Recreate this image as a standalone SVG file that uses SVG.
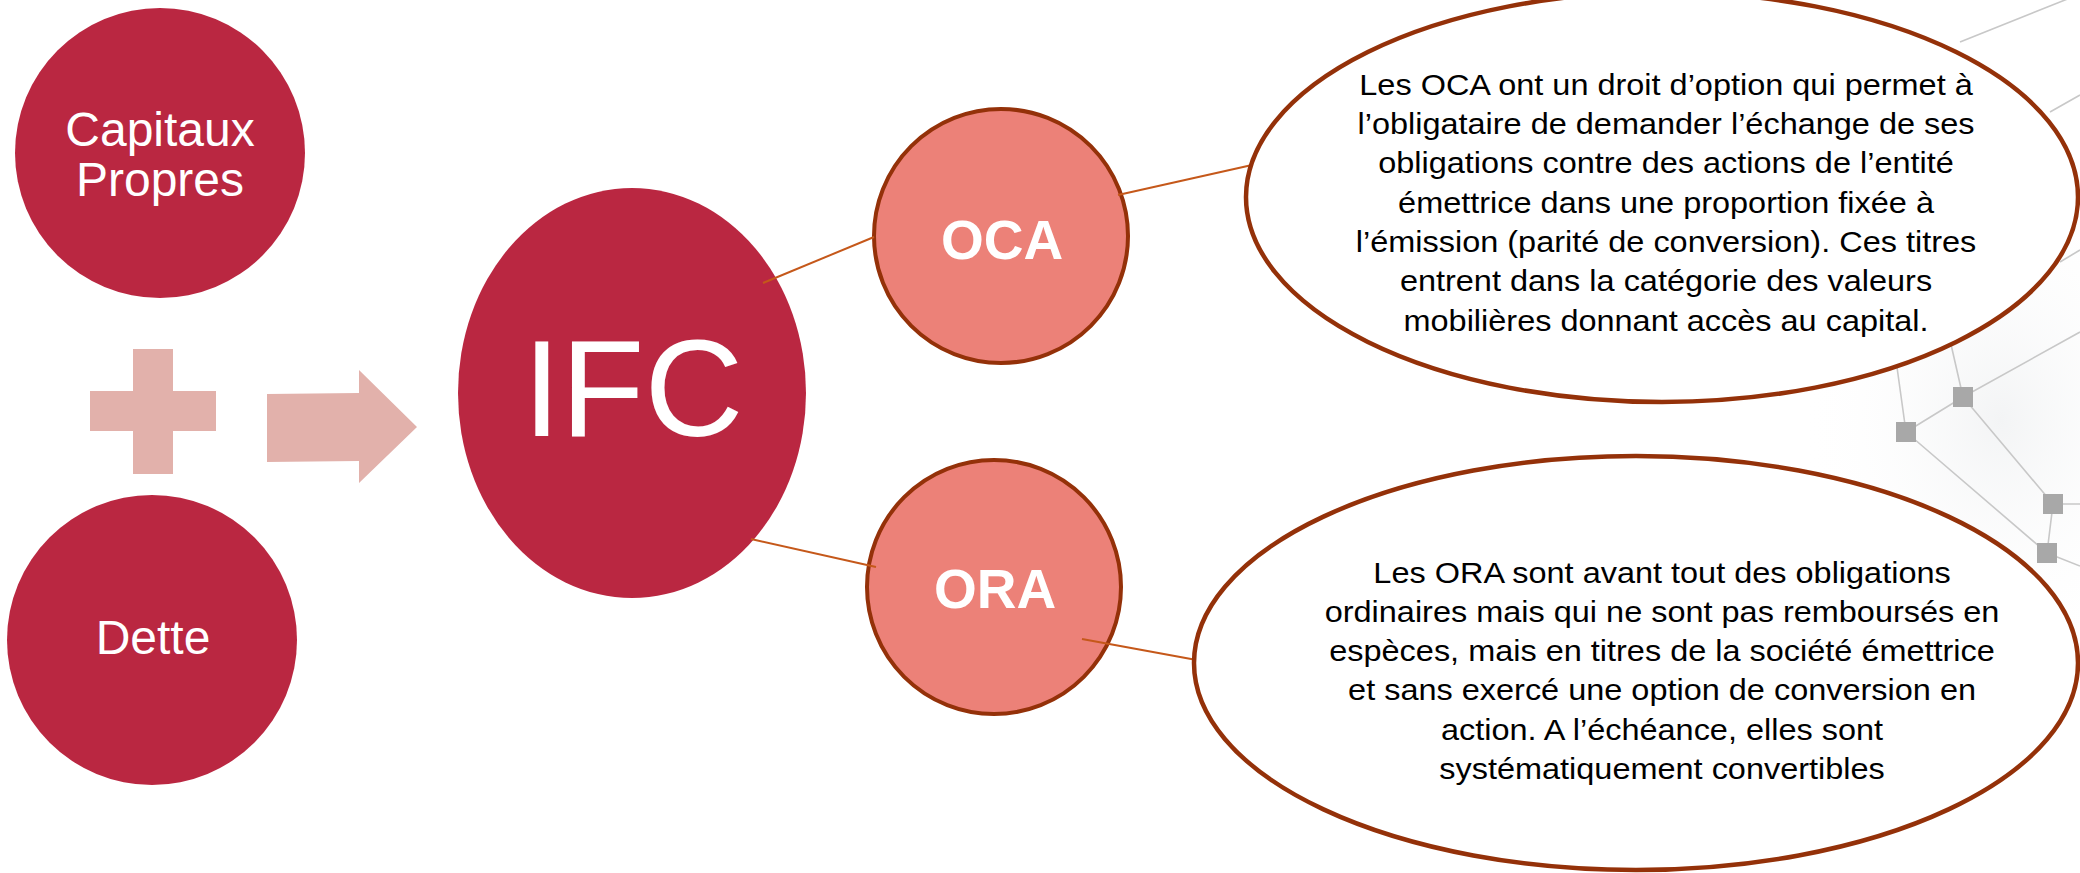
<svg xmlns="http://www.w3.org/2000/svg" width="2080" height="873" viewBox="0 0 2080 873">
<defs>
<style>
.dark{fill:#BA2741}
.sub{fill:#EC8178;stroke:#943109;stroke-width:4}
.bubble{fill:#FFFFFF;stroke:#943109;stroke-width:4.5}
.wt{fill:#FFFFFF;font-family:"Liberation Sans",Arial,sans-serif;text-anchor:middle}
.bt{fill:#000000;font-family:"Liberation Sans",Arial,sans-serif;font-size:29px;text-anchor:middle}
.conn{stroke:#C5581A;stroke-width:2;fill:none}
.net{stroke:#C8C8C8;stroke-width:1.6;fill:none}
.sq{fill:#A8A8A8}
.pale{fill:#E2B1AB}
</style>
<radialGradient id="bg" cx="0.5" cy="0.5" r="0.5">
<stop offset="0" stop-color="#F3F4F5"/>
<stop offset="1" stop-color="#FFFFFF" stop-opacity="0"/>
</radialGradient>
</defs>
<rect width="2080" height="873" fill="#FFFFFF"/>
<g id="background-network">
<ellipse cx="2000" cy="420" rx="200" ry="260" fill="url(#bg)"/>
<path class="net" d="M1960,42 L2080,-6 M2050,112 L2080,95 M2060,262 L2080,250 M1896,360 L1906,432 M1950,340 L1963,397 M1963,397 L2080,332 M1906,432 L1963,397 M1963,397 L2053,504 M1906,432 L2047,553 M2053,504 L2047,553 M2053,504 L2080,504 M2047,553 L2080,566"/>
<rect class="sq" x="1896" y="422" width="20" height="20"/>
<rect class="sq" x="1953" y="387" width="20" height="20"/>
<rect class="sq" x="2043" y="494" width="20" height="20"/>
<rect class="sq" x="2037" y="543" width="20" height="20"/>
</g>
<g id="capitaux-propres">
<circle class="dark" cx="160" cy="153" r="145"/>
<text class="wt" font-size="48" x="160" y="146">Capitaux</text>
<text class="wt" font-size="48" x="160" y="196">Propres</text>
</g>
<g id="plus">
<path class="pale" d="M133,349 H173 V391 H216 V431 H173 V474 H133 V431 H90 V391 H133 Z"/>
</g>
<g id="dette">
<circle class="dark" cx="152" cy="640" r="145"/>
<text class="wt" font-size="48" x="153" y="654">Dette</text>
</g>
<g id="arrow">
<path class="pale" d="M267,394 L359,393 L359,370 L417,427 L359,483 L359,461 L267,462 Z"/>
</g>
<g id="ifc">
<ellipse class="dark" cx="632" cy="393" rx="174" ry="205"/>
<text class="wt" font-size="137" x="633" y="436">IFC</text>
</g>
<g id="oca">
<circle class="sub" cx="1001" cy="236" r="127"/>
<text class="wt" font-size="55" font-weight="bold" x="1002" y="259">OCA</text>
</g>
<g id="ora">
<circle class="sub" cx="994" cy="587" r="127"/>
<text class="wt" font-size="55" font-weight="bold" x="995" y="608">ORA</text>
</g>
<g id="connectors">
<line class="conn" x1="763" y1="283" x2="874" y2="237"/>
<line class="conn" x1="751" y1="539" x2="876" y2="567"/>
<line class="conn" x1="1118" y1="195" x2="1252" y2="165"/>
<line class="conn" x1="1082" y1="639" x2="1202" y2="661"/>
</g>
<g id="oca-note">
<ellipse class="bubble" cx="1662" cy="197" rx="416" ry="205"/>
<g transform="matrix(1.12,0,0,1,-199.9,0)">
<text class="bt" x="1666" y="95">Les OCA ont un droit d’option qui permet à</text>
<text class="bt" x="1666" y="134">l’obligataire de demander l’échange de ses</text>
<text class="bt" x="1666" y="173">obligations contre des actions de l’entité</text>
<text class="bt" x="1666" y="213">émettrice dans une proportion fixée à</text>
<text class="bt" x="1666" y="252">l’émission (parité de conversion). Ces titres</text>
<text class="bt" x="1666" y="291">entrent dans la catégorie des valeurs</text>
<text class="bt" x="1666" y="331">mobilières donnant accès au capital.</text>
</g>
</g>
<g id="ora-note">
<ellipse class="bubble" cx="1636" cy="663" rx="442" ry="207"/>
<g transform="matrix(1.12,0,0,1,-199.4,0)">
<text class="bt" x="1662" y="583">Les ORA sont avant tout des obligations</text>
<text class="bt" x="1662" y="622">ordinaires mais qui ne sont pas remboursés en</text>
<text class="bt" x="1662" y="661">espèces, mais en titres de la société émettrice</text>
<text class="bt" x="1662" y="700">et sans exercé une option de conversion en</text>
<text class="bt" x="1662" y="740">action. A l’échéance, elles sont</text>
<text class="bt" x="1662" y="779">systématiquement convertibles</text>
</g>
</g>
</svg>
